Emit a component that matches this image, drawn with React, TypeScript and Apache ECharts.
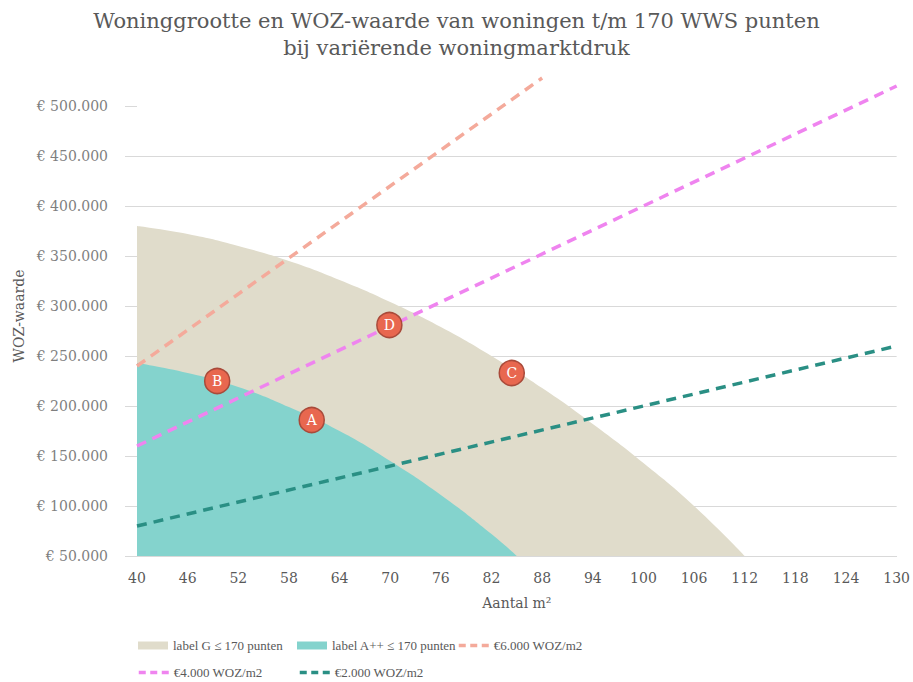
import React, { useEffect, useRef } from 'react';
import * as echarts from 'echarts';

const xTicks = [40, 46, 52, 58, 64, 70, 76, 82, 88, 94, 100, 106, 112, 118, 124, 130];
const yTicks = [50000, 100000, 150000, 200000, 250000, 300000, 350000, 400000, 450000, 500000];

const labelGX = [40, 46, 52, 58, 64, 70, 76, 82, 88, 94, 100, 106, 112];
const labelGY = [380000, 372000, 360000, 345000, 326000, 304000, 279000, 250000, 218000, 182000, 143000, 100000, 50000];

const labelAX = [40, 46, 52, 58, 64, 70, 76, 82, 85];
const labelAY = [243000, 233000, 219000, 199000, 175000, 145000, 111000, 72000, 50000];

const woz6X = [40, 88];
const woz6Y = [240000, 528000];
const woz4X = [40, 130];
const woz4Y = [160000, 520000];
const woz2X = [40, 130];
const woz2Y = [80000, 260000];

const pointNames = ['A', 'B', 'C', 'D'];
const pointX = [60.7, 49.5, 84.4, 69.9];
const pointY = [186000, 225000, 233000, 281000];

const seriesNames = ['label G ≤ 170 punten', 'label A++ ≤ 170 punten', '€6.000 WOZ/m2', '€4.000 WOZ/m2', '€2.000 WOZ/m2'];

const FONT = 'DejaVu Serif';
const LFONT = 'Liberation Serif';
const zip = (xs: number[], ys: number[]) => xs.map((x, i) => [x, ys[i]]);
const fmtEuro = (v: number) => '€ ' + String(Math.round(v)).replace(/\B(?=(\d{3})+(?!\d))/g, '.');

export default function App() {
  const ref = useRef<HTMLDivElement>(null);
  useEffect(() => {
    if (!ref.current) return;
    const chart = echarts.init(ref.current, undefined, { renderer: 'svg' });
    const legendText = { fontFamily: LFONT, fontSize: 13, color: '#595959' };
    const legendBase = { itemWidth: 30, itemHeight: 8, itemGap: 0, textStyle: legendText, selectedMode: false };
    const lineLegend = {
      ...legendBase,
      itemStyle: { color: 'transparent', borderWidth: 0, opacity: 0 },
      lineStyle: { type: [7, 4.5], width: 3.5 },
    };
    chart.setOption({
      animation: false,
      backgroundColor: '#ffffff',
      textStyle: { fontFamily: FONT },
      title: {
        text: 'Woninggrootte en WOZ-waarde van woningen t/m 170 WWS punten\nbij variërende woningmarktdruk',
        left: 'center',
        top: 2,
        textStyle: { fontFamily: FONT, fontSize: 21, fontWeight: 'normal', color: '#595959', lineHeight: 27 },
      },
      grid: { left: 137, right: 12, top: 76, bottom: 126, containLabel: false },
      xAxis: {
        type: 'value',
        min: 40,
        max: 130,
        interval: 6,
        name: 'Aantal m²',
        nameLocation: 'middle',
        nameGap: 40,
        nameTextStyle: { fontFamily: FONT, fontSize: 14, color: '#595959' },
        axisLine: { show: true, lineStyle: { color: '#d9d9d9', width: 1 } },
        axisTick: { show: false },
        splitLine: { show: false },
        axisLabel: { margin: 15, fontFamily: FONT, fontSize: 14, color: '#595959' },
      },
      yAxis: {
        type: 'value',
        min: 50000,
        max: 530000,
        interval: 50000,
        name: 'WOZ-waarde',
        nameLocation: 'middle',
        nameGap: 110,
        nameTextStyle: { fontFamily: FONT, fontSize: 14, color: '#595959' },
        axisLine: { show: false },
        axisTick: { show: true, customValues: yTicks, length: 12, lineStyle: { color: '#d9d9d9' } },
        splitLine: { show: true, showMaxLine: false, lineStyle: { color: '#d9d9d9', width: 1 } },
        axisLabel: {
          customValues: yTicks,
          margin: 29,
          fontFamily: FONT,
          fontSize: 14,
          color: '#7f7f7f',
          formatter: (v: number) => fmtEuro(v),
        },
      },
      legend: [
        { ...legendBase, data: [{ name: seriesNames[0], icon: 'rect' }], left: 133, top: 634 },
        { ...legendBase, data: [{ name: seriesNames[1], icon: 'rect' }], left: 292, top: 634 },
        { ...lineLegend, data: [seriesNames[2]], left: 452, top: 634 },
        { ...lineLegend, data: [seriesNames[3]], left: 132, top: 661 },
        { ...lineLegend, data: [seriesNames[4]], left: 293, top: 661 },
      ],
      series: [
        {
          name: seriesNames[0],
          type: 'line',
          data: zip(labelGX, labelGY),
          smooth: true,
          symbol: 'none',
          z: 1,
          itemStyle: { color: '#e0dccb' },
          lineStyle: { width: 0, color: '#e0dccb' },
          areaStyle: { color: '#e0dccb', opacity: 1, origin: 'start' },
        },
        {
          name: seriesNames[1],
          type: 'line',
          data: zip(labelAX, labelAY),
          smooth: true,
          symbol: 'none',
          z: 2,
          itemStyle: { color: '#84d3cd' },
          lineStyle: { width: 0, color: '#84d3cd' },
          areaStyle: { color: '#84d3cd', opacity: 1, origin: 'start' },
        },
        {
          name: seriesNames[2],
          type: 'line',
          data: zip(woz6X, woz6Y),
          symbol: 'none',
          z: 3,
          itemStyle: { color: '#f4aa9b' },
          lineStyle: { color: '#f4aa9b', width: 3.5, type: [10, 7] },
        },
        {
          name: seriesNames[3],
          type: 'line',
          data: zip(woz4X, woz4Y),
          symbol: 'none',
          z: 3,
          itemStyle: { color: '#ef84ef' },
          lineStyle: { color: '#ef84ef', width: 3.5, type: [10, 7] },
        },
        {
          name: seriesNames[4],
          type: 'line',
          data: zip(woz2X, woz2Y),
          symbol: 'none',
          z: 3,
          itemStyle: { color: '#2a8f84' },
          lineStyle: { color: '#2a8f84', width: 3.5, type: [10, 7] },
        },
        {
          name: 'punten',
          type: 'scatter',
          data: pointNames.map((n, i) => ({ name: n, value: [pointX[i], pointY[i]] })),
          symbol: 'circle',
          symbolSize: 25,
          z: 5,
          itemStyle: { color: '#e8674f', borderColor: '#a94a3a', borderWidth: 1.5, opacity: 1 },
          label: {
            show: true,
            position: 'inside',
            formatter: (p: any) => p.name,
            fontFamily: FONT,
            fontSize: 14,
            color: '#ffffff',
          },
          emphasis: { disabled: true },
        },
      ],
    });
    return () => chart.dispose();
  }, []);
  return <div ref={ref} style={{ position: 'absolute', left: 0, top: 0, width: 913, height: 682 }} />;
}
